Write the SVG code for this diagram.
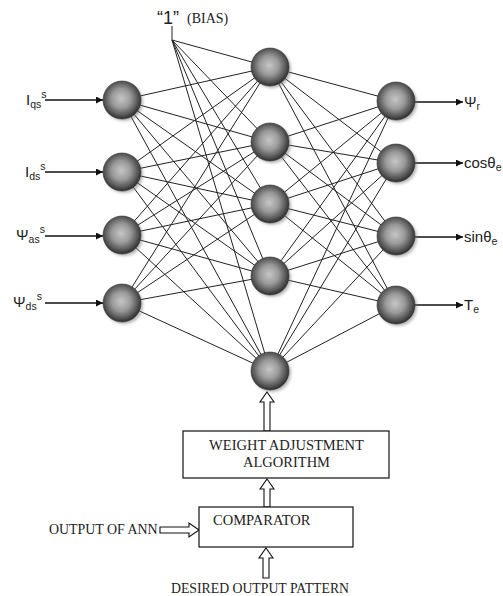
<svg xmlns="http://www.w3.org/2000/svg" width="503" height="596" viewBox="0 0 503 596">
<style>
.c{stroke:#222;stroke-width:1;fill:none}
.ar{stroke:#111;stroke-width:1.3;fill:none;marker-end:url(#ah)}
.hol{stroke:#111;stroke-width:1.1;fill:#fff}
.box{stroke:#111;stroke-width:1.2;fill:#fff}
.lbl{font-family:"Liberation Sans",Arial,sans-serif;font-size:15px;fill:#222}
.sub{font-size:10.5px}
.ser{font-family:"Liberation Serif","Times New Roman",serif;fill:#222}
.node .sh{fill:#777;opacity:.55;filter:url(#blur)}
.node .b{fill:url(#sph);stroke:#333;stroke-width:.6}
</style>
<defs>
<radialGradient id="sph" cx="48%" cy="46%" r="55%">
<stop offset="0" stop-color="#c6c6c6"/>
<stop offset="0.45" stop-color="#9a9a9a"/>
<stop offset="0.8" stop-color="#555"/>
<stop offset="1" stop-color="#2a2a2a"/>
</radialGradient>
<filter id="blur" x="-30%" y="-30%" width="160%" height="160%"><feGaussianBlur stdDeviation="1.4"/></filter>
<marker id="ah" viewBox="0 0 10 10" refX="10" refY="5" markerWidth="7" markerHeight="7" orient="auto" markerUnits="userSpaceOnUse"><path d="M0,0 L10,5 L0,10 Z" fill="#111"/></marker>
</defs>
<rect width="503" height="596" fill="#fff"/>
<g id="connectors">
<line class="c" x1="172" y1="26" x2="172" y2="40"/>
<line class="c" x1="172" y1="40" x2="270" y2="67"/>
<line class="c" x1="172" y1="40" x2="270" y2="142"/>
<line class="c" x1="172" y1="40" x2="270" y2="204"/>
<line class="c" x1="172" y1="40" x2="270" y2="276"/>
<line class="c" x1="172" y1="40" x2="270" y2="371"/>
<line class="c" x1="122" y1="100" x2="270" y2="67"/><line class="c" x1="122" y1="100" x2="270" y2="142"/><line class="c" x1="122" y1="100" x2="270" y2="204"/><line class="c" x1="122" y1="100" x2="270" y2="276"/><line class="c" x1="122" y1="100" x2="270" y2="371"/>
<line class="c" x1="122" y1="172" x2="270" y2="67"/><line class="c" x1="122" y1="172" x2="270" y2="142"/><line class="c" x1="122" y1="172" x2="270" y2="204"/><line class="c" x1="122" y1="172" x2="270" y2="276"/><line class="c" x1="122" y1="172" x2="270" y2="371"/>
<line class="c" x1="122" y1="235" x2="270" y2="67"/><line class="c" x1="122" y1="235" x2="270" y2="142"/><line class="c" x1="122" y1="235" x2="270" y2="204"/><line class="c" x1="122" y1="235" x2="270" y2="276"/><line class="c" x1="122" y1="235" x2="270" y2="371"/>
<line class="c" x1="122" y1="303" x2="270" y2="67"/><line class="c" x1="122" y1="303" x2="270" y2="142"/><line class="c" x1="122" y1="303" x2="270" y2="204"/><line class="c" x1="122" y1="303" x2="270" y2="276"/><line class="c" x1="122" y1="303" x2="270" y2="371"/>
<line class="c" x1="270" y1="67" x2="396" y2="101"/><line class="c" x1="270" y1="67" x2="396" y2="163"/><line class="c" x1="270" y1="67" x2="396" y2="236"/><line class="c" x1="270" y1="67" x2="396" y2="305"/>
<line class="c" x1="270" y1="142" x2="396" y2="101"/><line class="c" x1="270" y1="142" x2="396" y2="163"/><line class="c" x1="270" y1="142" x2="396" y2="236"/><line class="c" x1="270" y1="142" x2="396" y2="305"/>
<line class="c" x1="270" y1="204" x2="396" y2="101"/><line class="c" x1="270" y1="204" x2="396" y2="163"/><line class="c" x1="270" y1="204" x2="396" y2="236"/><line class="c" x1="270" y1="204" x2="396" y2="305"/>
<line class="c" x1="270" y1="276" x2="396" y2="101"/><line class="c" x1="270" y1="276" x2="396" y2="163"/><line class="c" x1="270" y1="276" x2="396" y2="236"/><line class="c" x1="270" y1="276" x2="396" y2="305"/>
<line class="c" x1="270" y1="371" x2="396" y2="101"/><line class="c" x1="270" y1="371" x2="396" y2="163"/><line class="c" x1="270" y1="371" x2="396" y2="236"/><line class="c" x1="270" y1="371" x2="396" y2="305"/>
<line class="ar" x1="45" y1="100" x2="103" y2="100"/>
<line class="ar" x1="45" y1="172" x2="103" y2="172"/>
<line class="ar" x1="45" y1="236" x2="103" y2="236"/>
<line class="ar" x1="45" y1="303" x2="103" y2="303"/>
<line class="ar" x1="415" y1="102" x2="463" y2="102"/>
<line class="ar" x1="415" y1="163" x2="463" y2="163"/>
<line class="ar" x1="415" y1="237" x2="463" y2="237"/>
<line class="ar" x1="415" y1="305" x2="463" y2="305"/>
<path class="hol" d="M267,392 L274,402 L270,402 L270,431 L264,431 L264,402 L260,402 Z"/>
<path class="hol" d="M267,479 L274,489 L270,489 L270,507 L264,507 L264,489 L260,489 Z"/>
<path class="hol" d="M266,548 L273,558 L269,558 L269,578 L263,578 L263,558 L259,558 Z"/>
<path class="hol" d="M199,530 L189,523 L189,527 L160,527 L160,533 L189,533 L189,537 Z"/>
</g>
<g id="bias"><text class="lbl" x="157" y="24" style="font-size:18px">“1”</text><text class="ser" x="187" y="23" style="font-size:14px">(BIAS)</text></g>
<g id="in1" class="node"><circle class="sh" cx="124" cy="102" r="19"/><circle class="b" cx="122" cy="100" r="19"/></g>
<g id="in2" class="node"><circle class="sh" cx="124" cy="174" r="19"/><circle class="b" cx="122" cy="172" r="19"/></g>
<g id="in3" class="node"><circle class="sh" cx="124" cy="237" r="19"/><circle class="b" cx="122" cy="235" r="19"/></g>
<g id="in4" class="node"><circle class="sh" cx="124" cy="305" r="19"/><circle class="b" cx="122" cy="303" r="19"/></g>
<g id="h1" class="node"><circle class="sh" cx="272" cy="69" r="19"/><circle class="b" cx="270" cy="67" r="19"/></g>
<g id="h2" class="node"><circle class="sh" cx="272" cy="144" r="19"/><circle class="b" cx="270" cy="142" r="19"/></g>
<g id="h3" class="node"><circle class="sh" cx="272" cy="206" r="19"/><circle class="b" cx="270" cy="204" r="19"/></g>
<g id="h4" class="node"><circle class="sh" cx="272" cy="278" r="19"/><circle class="b" cx="270" cy="276" r="19"/></g>
<g id="h5" class="node"><circle class="sh" cx="272" cy="373" r="19"/><circle class="b" cx="270" cy="371" r="19"/></g>
<g id="o1" class="node"><circle class="sh" cx="398" cy="103" r="19"/><circle class="b" cx="396" cy="101" r="19"/></g>
<g id="o2" class="node"><circle class="sh" cx="398" cy="165" r="19"/><circle class="b" cx="396" cy="163" r="19"/></g>
<g id="o3" class="node"><circle class="sh" cx="398" cy="238" r="19"/><circle class="b" cx="396" cy="236" r="19"/></g>
<g id="o4" class="node"><circle class="sh" cx="398" cy="307" r="19"/><circle class="b" cx="396" cy="305" r="19"/></g>
<g id="labels">
<text class="lbl" x="26" y="105">I<tspan class="sub" dy="3">qs</tspan><tspan class="sub" dy="-10">s</tspan></text>
<text class="lbl" x="25" y="177">I<tspan class="sub" dy="3">ds</tspan><tspan class="sub" dy="-10">s</tspan></text>
<text class="lbl" x="16" y="240">Ψ<tspan class="sub" dy="3">as</tspan><tspan class="sub" dy="-10">s</tspan></text>
<text class="lbl" x="13" y="307">Ψ<tspan class="sub" dy="3">ds</tspan><tspan class="sub" dy="-10">s</tspan></text>
<text class="lbl" x="464" y="107">Ψ<tspan class="sub" dy="3">r</tspan></text>
<text class="lbl" x="464" y="168">cosθ<tspan class="sub" dy="3">e</tspan></text>
<text class="lbl" x="464" y="242">sinθ<tspan class="sub" dy="3">e</tspan></text>
<text class="lbl" x="464" y="310">T<tspan class="sub" dy="3">e</tspan></text>
</g>
<g id="weight">
<rect class="box" x="183" y="431" width="206" height="47"/>
<text class="ser" x="286.5" y="450" font-size="14.5" text-anchor="middle">WEIGHT ADJUSTMENT</text>
<text class="ser" x="286.5" y="467" font-size="14.5" text-anchor="middle">ALGORITHM</text>
</g>
<g id="comparator">
<rect class="box" x="199" y="507" width="154" height="40"/>
<text class="ser" x="213" y="525" font-size="14.5">COMPARATOR</text>
</g>
<g id="texts">
<text class="ser" x="49" y="534" font-size="13.9">OUTPUT OF ANN</text>
<text class="ser" x="171" y="593" font-size="13.75">DESIRED OUTPUT PATTERN</text>
</g>
</svg>
